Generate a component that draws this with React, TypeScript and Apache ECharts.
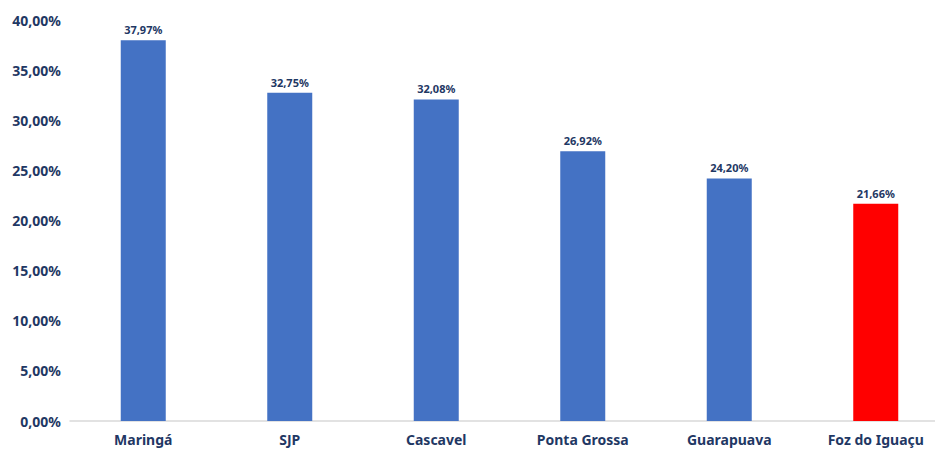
import React, { useEffect, useRef } from "react";
import * as echarts from "echarts";

const categories = ["Maringá", "SJP", "Cascavel", "Ponta Grossa", "Guarapuava", "Foz do Iguaçu"];
const values = [37.97, 32.75, 32.08, 26.92, 24.2, 21.66];
const barColors = ["#4472C4", "#4472C4", "#4472C4", "#4472C4", "#4472C4", "#FF0000"];

const fmt = (v: number) => v.toFixed(2).replace(".", ",") + "%";

export default function App() {
  const ref = useRef<HTMLDivElement>(null);
  useEffect(() => {
    if (!ref.current) return;
    const chart = echarts.init(ref.current, null, { renderer: "svg" });
    const navy = "#1F3864";
    chart.setOption({
      animation: false,
      grid: { left: 70, width: 879, top: 20, bottom: 29, containLabel: false, outerBoundsMode: "none" },
      xAxis: {
        type: "category",
        data: categories,
        axisLine: { show: true, lineStyle: { color: "#D9D9D9", width: 1.5 } },
        axisTick: { show: false },
        axisLabel: {
          color: navy,
          fontWeight: "bold",
          fontSize: 14,
          fontFamily: "Noto Sans",
          margin: 11,
        },
      },
      yAxis: {
        type: "value",
        min: 0,
        max: 40,
        interval: 5,
        splitLine: { show: false },
        axisLine: { show: false },
        axisTick: { show: false },
        axisLabel: {
          color: navy,
          fontWeight: "bold",
          fontSize: 14,
          fontFamily: "Noto Sans",
          margin: 9,
          formatter: (v: number) => fmt(v),
        },
      },
      series: [
        {
          type: "bar",
          barWidth: 45,
          data: values.map((v, i) => ({ value: v, itemStyle: { color: barColors[i] } })),
          label: {
            show: true,
            position: "top",
            distance: 5,
            color: navy,
            fontWeight: "bold",
            fontSize: 11,
            fontFamily: "Noto Sans",
            formatter: (p: any) => fmt(p.value),
          },
        },
      ],
    });
    return () => chart.dispose();
  }, []);
  return <div ref={ref} style={{ width: 935, height: 450, position: "absolute", left: 0, top: 0, background: "#fff" }} />;
}
